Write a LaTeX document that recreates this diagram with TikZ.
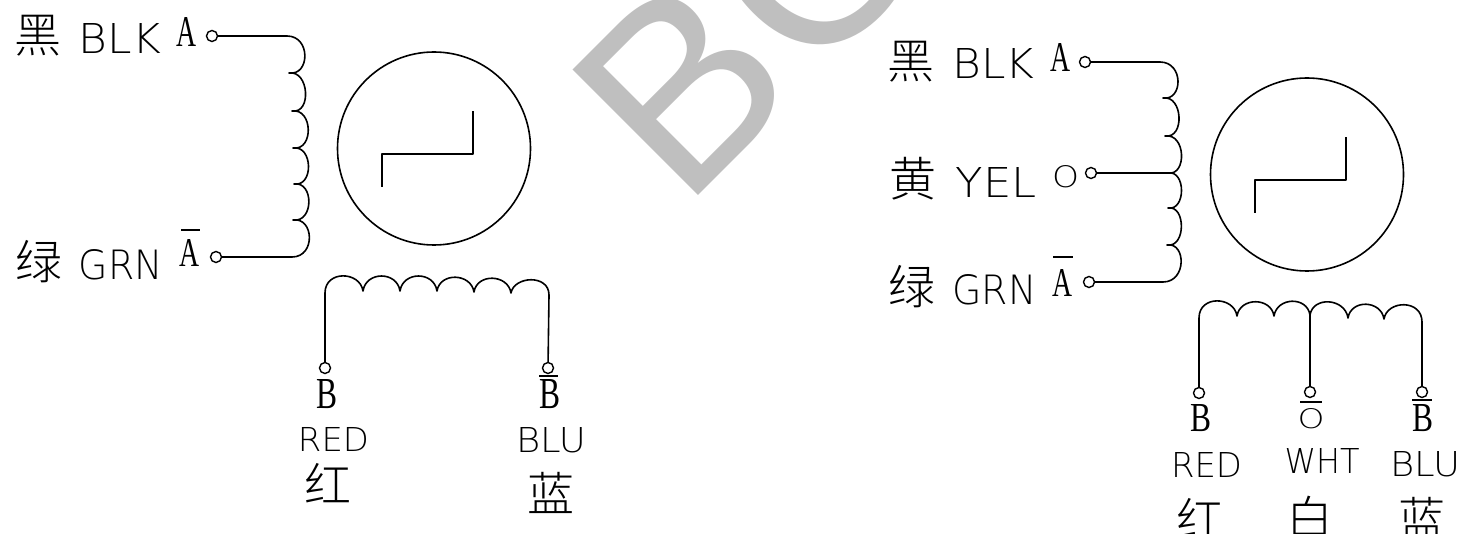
\documentclass[tikz,border=0pt]{standalone}
\usepackage{graphicx}
\usepackage{fontspec}
\setmainfont{Liberation Sans}
\newfontfamily\cjk{Noto Sans CJK SC Light}
\newfontfamily\cad{DejaVu Sans ExtraLight}
\newfontfamily\pin{Liberation Serif}
\newcommand{\cadlab}[6]{\node[lab] (#1) at (#2,#3) {\resizebox{#4pt}{#5pt}{\cad #6}};}
\newcommand{\pinlab}[6]{\node[lab] (#1) at (#2,#3) {\resizebox{#4pt}{#5pt}{\pin #6}};}
\newcommand{\han}[4]{\node[lab,font=\cjk\fontsize{47}{47}\selectfont] (#1) at (#2,#3) {#4};}
\tikzset{
  x=1pt,y=-1pt,
  wire/.style={line width=1.6pt,black,line join=round},
  term/.style={circle,draw=black,line width=1.4pt,fill=white,minimum size=11pt,inner sep=0pt},
  lab/.style={inner sep=0pt,outer sep=0pt,text=black}
}
\begin{document}
\begin{tikzpicture}
\useasboundingbox (0,0) rectangle (1461,534);
\clip (0,0) rectangle (1461,534);
% watermark
\node[lab,anchor=base west,rotate=45,text=black!25,font=\fontsize{258}{258}\selectfont] (wm) at (683,211) {B\kern 5pt O};
% left motor
\node[term] (ta) at (212,36) {};
\node[term] (tab) at (216,257) {};
\node[term] (tb) at (325,368) {};
\node[term] (tbb) at (548,368) {};
\node[circle,draw=black,line width=1.6pt,minimum size=193pt,inner sep=0pt] (m1) at (434,148.5) {};
\draw[wire] (382,187) -- (382,154) -- (473,154) -- (473,111);
\draw[wire] (ta) -- (287,36)
 .. controls +(24,0) and +(21,3) .. (289,73)
 .. controls +(20,-3) and +(20,3) .. (292,111)
 .. controls +(21,-3) and +(21,3) .. (293,148)
 .. controls +(20,-3) and +(20,3) .. (294,184)
 .. controls +(20,-3) and +(21,3) .. (293,220)
 .. controls +(21,-3) and +(24,0) .. (292,257) -- (tab);
\draw[wire] (tb) -- (325,293)
 .. controls +(0,-23) and +(-3,-20) .. (363,291)
 .. controls +(3,-20) and +(-3,-20) .. (400,291)
 .. controls +(3,-20) and +(-3,-20) .. (437,291)
 .. controls +(3,-19) and +(-3,-19) .. (474,292)
 .. controls +(3,-19) and +(-3,-19) .. (511,293)
 .. controls +(3,-17) and +(0,-21) .. (549,295) -- (tbb);
\han{h1}{38}{36}{黑}
\cadlab{t1}{120}{38.5}{82}{30}{BLK}
\pinlab{p1}{186.5}{32.5}{20}{29}{A}
\han{h2}{39}{262}{绿}
\cadlab{t2}{121}{264.5}{84}{30}{GRN}
\pinlab{p2}{189.5}{253.5}{20}{27}{A}
\draw[wire] (181,230) -- (200,230);
\pinlab{p3}{327}{394.5}{21}{29}{B}
\pinlab{p4}{550}{394.5}{21}{29}{B}
\draw[wire] (539,376) -- (558,376);
\cadlab{t3}{333.5}{439}{71}{24}{RED}
\cadlab{t4}{551}{440.5}{70}{25}{BLU}
\han{h3}{328}{483}{红}
\han{h4}{551}{493}{蓝}
% right motor
\node[term] (ra) at (1085,62) {};
\node[term] (ro) at (1091,173) {};
\node[term] (rab) at (1089,282) {};
\node[term] (rb) at (1199,393) {};
\node[term] (rc) at (1310,392) {};
\node[term] (rbb) at (1422,392) {};
\node[circle,draw=black,line width=1.6pt,minimum size=193pt,inner sep=0pt] (m2) at (1307,174.5) {};
\draw[wire] (1255,213) -- (1255,180) -- (1346,180) -- (1346,137);
\draw[wire] (ra) -- (1160,62)
 .. controls +(24,0) and +(20,3) .. (1163,98)
 .. controls +(20,-3) and +(20,3) .. (1165,136)
 .. controls +(21,-3) and +(19,3) .. (1168,173)
 .. controls +(18,-3) and +(18,3) .. (1168,208)
 .. controls +(18,-3) and +(19,3) .. (1167,245)
 .. controls +(19,-3) and +(24,0) .. (1163,282) -- (rab);
\draw[wire] (ro) -- (1168,173);
\draw[wire] (rb) -- (1199,318)
 .. controls +(0,-23) and +(-3,-20) .. (1237,316)
 .. controls +(3,-19) and +(-3,-19) .. (1274,316)
 .. controls +(3,-19) and +(-3,-19) .. (1310,315)
 .. controls +(3,-19) and +(-3,-20) .. (1348,318)
 .. controls +(3,-19) and +(-3,-19) .. (1384,319)
 .. controls +(3,-19) and +(0,-23) .. (1422,322) -- (rbb);
\draw[wire] (rc) -- (1310,315);
\han{h5}{911}{62}{黑}
\cadlab{t5}{993.5}{64}{82}{30}{BLK}
\pinlab{p5}{1060}{58}{20}{28}{A}
\han{h6}{913}{179}{黄}
\cadlab{t6}{996}{182}{81}{30}{YEL}
\cadlab{p6}{1065.5}{176.5}{27}{22}{O}
\han{h7}{912}{287}{绿}
\cadlab{t7}{994.5}{290}{84}{30}{GRN}
\pinlab{p7}{1062.5}{283.5}{20}{27}{A}
\draw[wire] (1053,257) -- (1073,257);
\pinlab{p8}{1201}{418.5}{21}{27}{B}
\cadlab{p9}{1311}{418.5}{27}{20}{O}
\draw[wire] (1300,402) -- (1322,402);
\pinlab{p10}{1423}{418.5}{21}{27}{B}
\draw[wire] (1412,400) -- (1432,400);
\cadlab{t8}{1206.5}{464.5}{71}{25}{RED}
\cadlab{t9}{1322}{460.5}{75}{25}{WHT}
\cadlab{t10}{1425}{464.5}{70}{25}{BLU}
\han{h8}{1200}{518}{红}
\han{h9}{1310}{518}{白}
\han{h10}{1422}{518}{蓝}
\end{tikzpicture}
\end{document}
